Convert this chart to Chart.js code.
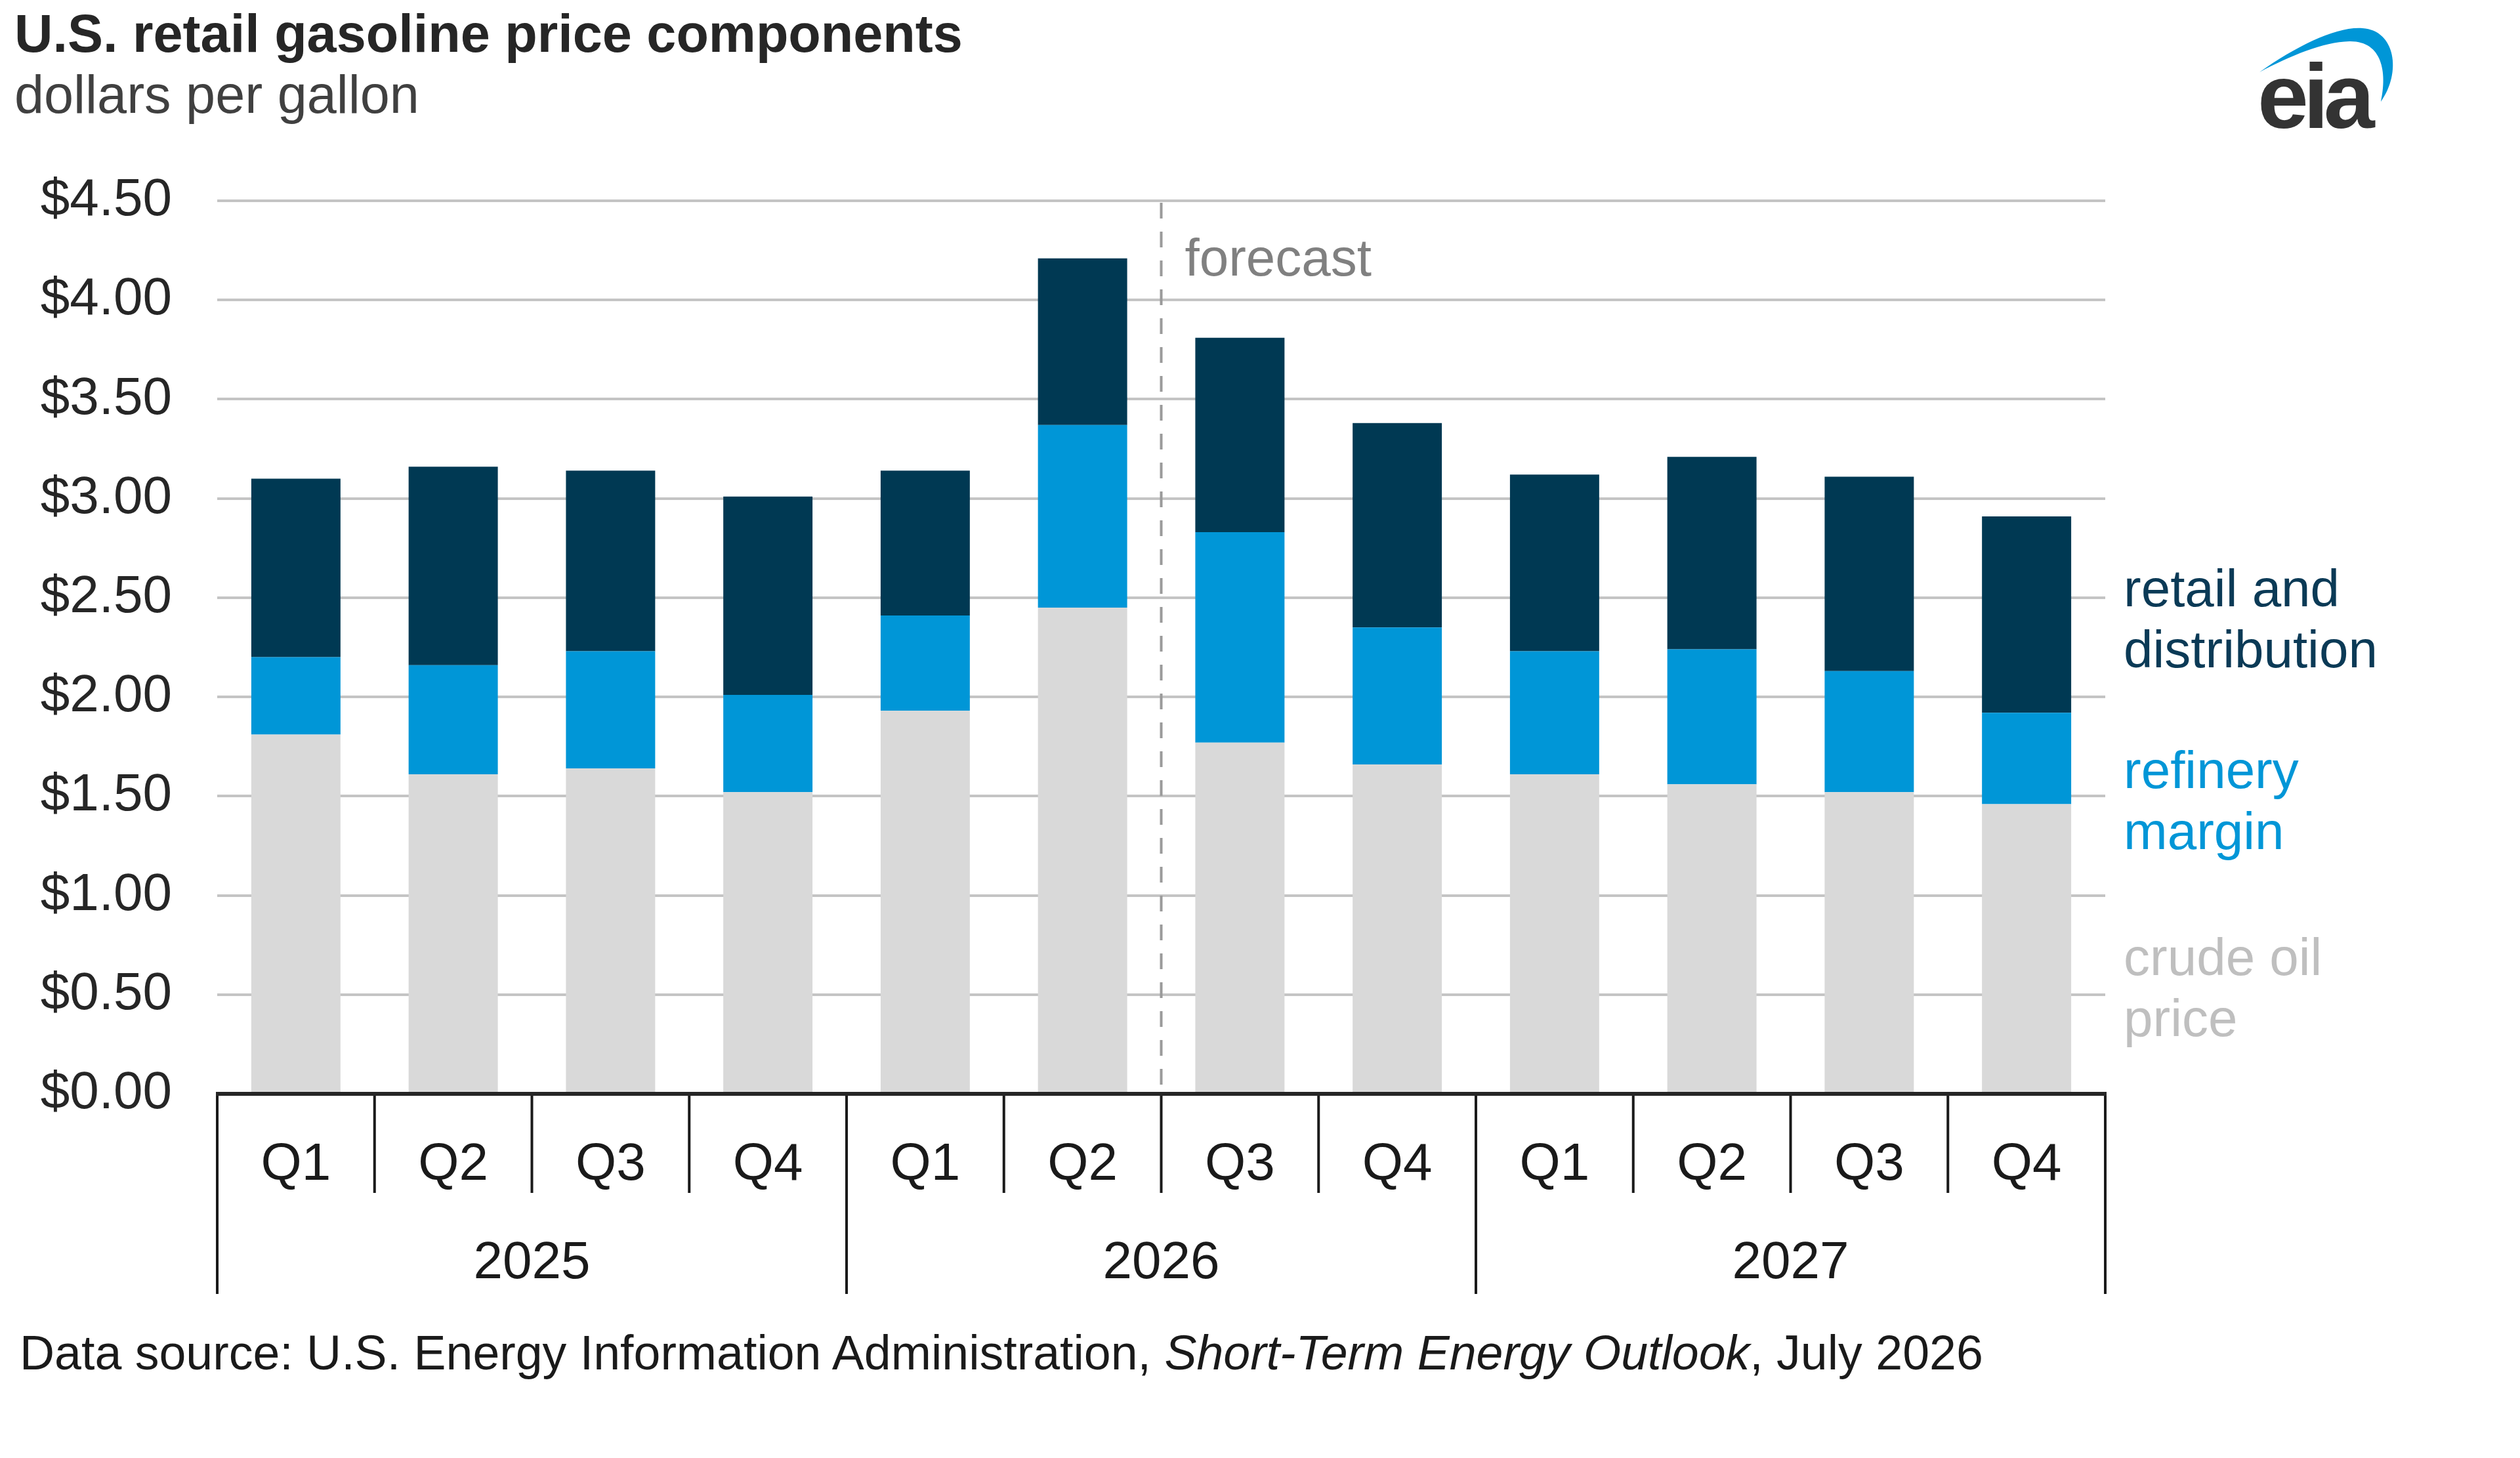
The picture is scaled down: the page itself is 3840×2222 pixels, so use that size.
<!DOCTYPE html>
<html>
<head>
<meta charset="utf-8">
<script src="https://cdn.jsdelivr.net/npm/chart.js@4.4.1/dist/chart.umd.min.js"></script>
<style>
  html, body { margin: 0; padding: 0; background: #fff; }
  body { width: 3840px; height: 2222px; position: relative; overflow: hidden; font-family: "Liberation Sans", Arial, sans-serif; }
  #chart { position: absolute; left: 0; top: 0; }
  .txt { position: absolute; white-space: nowrap; line-height: 1; }
  #title { left: 22px; top: 11px; font-size: 81px; font-weight: bold; color: #262626; }
  #subtitle { left: 22px; top: 104px; font-size: 81px; color: #404040; }
  #source { left: 30px; top: 2025px; font-size: 73.5px; color: #1a1a1a; }
  .leg { position: absolute; left: 3236px; font-size: 80px; line-height: 93px; white-space: nowrap; }
  #eia { left: 3440px; top: 77px; font-size: 140px; font-weight: bold; color: #333333; letter-spacing: -8px; }
</style>
</head>
<body>
<canvas id="chart" width="3840" height="2222"></canvas>
<div class="txt" id="title">U.S. retail gasoline price components</div>
<div class="txt" id="subtitle">dollars per gallon</div>
<div class="txt" id="source">Data source: U.S. Energy Information Administration, <i>Short-Term Energy Outlook</i>, July 2026</div>
<div class="leg" style="top:850px;color:#0b3a56">retail and<br>distribution</div>
<div class="leg" style="top:1127px;color:#0096d7">refinery<br>margin</div>
<div class="leg" style="top:1412px;color:#bfbfbf">crude oil<br>price</div>
<div class="txt" id="eia">eia</div>
<script>
// quarters shown on the axis, grouped by year
const quarters = ['Q1', 'Q2', 'Q3', 'Q4', 'Q1', 'Q2', 'Q3', 'Q4', 'Q1', 'Q2', 'Q3', 'Q4'];
const years = ['2025', '2026', '2027'];

// dollars per gallon
const crudeOil = [1.81, 1.61, 1.64, 1.52, 1.93, 2.45, 1.77, 1.66, 1.61, 1.56, 1.52, 1.46];
const refineryMargin = [0.39, 0.55, 0.59, 0.49, 0.48, 0.92, 1.06, 0.69, 0.62, 0.68, 0.61, 0.46];
const retailDist = [0.90, 1.00, 0.91, 1.00, 0.73, 0.84, 0.98, 1.03, 0.89, 0.97, 0.98, 0.99];

const forecastStart = 6; // first forecast quarter (2026 Q3)

const fontFam = '"Liberation Sans", Arial, sans-serif';

// x axis with two label rows + forecast line + logo swoosh
const extras = {
    id: 'extras',
    afterDraw(chart) {
        const ctx = chart.ctx;
        const xs = chart.scales.x;
        const area = chart.chartArea;
        const step = xs.getPixelForValue(1) - xs.getPixelForValue(0);
        const edge = i => xs.getPixelForValue(i) - step / 2;
        const y0 = area.bottom;

        ctx.save();

        // forecast dashed line
        ctx.strokeStyle = '#9a9a9a';
        ctx.lineWidth = 4;
        ctx.setLineDash([24, 20]);
        ctx.beginPath();
        ctx.moveTo(edge(forecastStart), area.top + 3);
        ctx.lineTo(edge(forecastStart), y0);
        ctx.stroke();
        ctx.setLineDash([]);

        ctx.fillStyle = '#808080';
        ctx.font = '80px ' + fontFam;
        ctx.textAlign = 'left';
        ctx.textBaseline = 'alphabetic';
        ctx.fillText('forecast', edge(forecastStart) + 36, 420);

        // separators below the axis
        ctx.strokeStyle = '#1a1a1a';
        ctx.lineWidth = 4;
        for (let i = 0; i <= quarters.length; i++) {
            const x = edge(i);
            const bottom = (i % 4 == 0) ? 1972 : 1818;
            ctx.beginPath();
            ctx.moveTo(x, y0);
            ctx.lineTo(x, bottom);
            ctx.stroke();
        }

        // axis line
        ctx.strokeStyle = '#262626';
        ctx.lineWidth = 6;
        ctx.beginPath();
        ctx.moveTo(area.left - 2, y0);
        ctx.lineTo(area.right + 2, y0);
        ctx.stroke();

        // labels
        ctx.fillStyle = '#1a1a1a';
        ctx.textAlign = 'center';
        ctx.font = '80px ' + fontFam;
        for (let i = 0; i < quarters.length; i++) {
            ctx.fillText(quarters[i], xs.getPixelForValue(i), 1798);
        }
        for (let j = 0; j < years.length; j++) {
            const mid = (edge(j * 4) + edge(j * 4 + 4)) / 2;
            ctx.fillText(years[j], mid, 1948);
        }

        // eia swoosh
        ctx.fillStyle = '#0096d7';
        ctx.beginPath();
        ctx.moveTo(3443, 110);
        ctx.bezierCurveTo(3500, 70, 3560, 40, 3600, 43);
        ctx.bezierCurveTo(3650, 46, 3660, 110, 3628, 155);
        ctx.bezierCurveTo(3638, 110, 3630, 62, 3580, 63);
        ctx.bezierCurveTo(3540, 64, 3490, 85, 3443, 110);
        ctx.closePath();
        ctx.fill();

        ctx.restore();
    }
};

const ctx = document.getElementById('chart').getContext('2d');

new Chart(ctx, {
    type: 'bar',
    data: {
        labels: quarters,
        datasets: [
            { label: 'crude oil price', data: crudeOil, backgroundColor: '#d9d9d9' },
            { label: 'refinery margin', data: refineryMargin, backgroundColor: '#0096d7' },
            { label: 'retail and distribution', data: retailDist, backgroundColor: '#003953' }
        ]
    },
    options: {
        responsive: false,
        devicePixelRatio: 1,
        animation: false,
        layout: { padding: { left: 0, top: 306, right: 632, bottom: 555 } },
        datasets: { bar: { categoryPercentage: 1, barPercentage: 0.567, borderWidth: 0 } },
        plugins: { legend: { display: false }, tooltip: { enabled: false }, title: { display: false } },
        scales: {
            x: { stacked: true, display: false, offset: true },
            y: {
                stacked: true,
                min: 0,
                max: 4.5,
                afterFit: function(scale) { scale.width = 331; },
                ticks: {
                    stepSize: 0.5,
                    padding: 69,
                    color: '#262626',
                    font: { family: fontFam, size: 80 },
                    callback: function(v) { return '$' + Number(v).toFixed(2); }
                },
                grid: { color: '#c4c4c4', lineWidth: 4, drawTicks: false },
                border: { display: false }
            }
        }
    },
    plugins: [extras]
});
</script>
</body>
</html>
